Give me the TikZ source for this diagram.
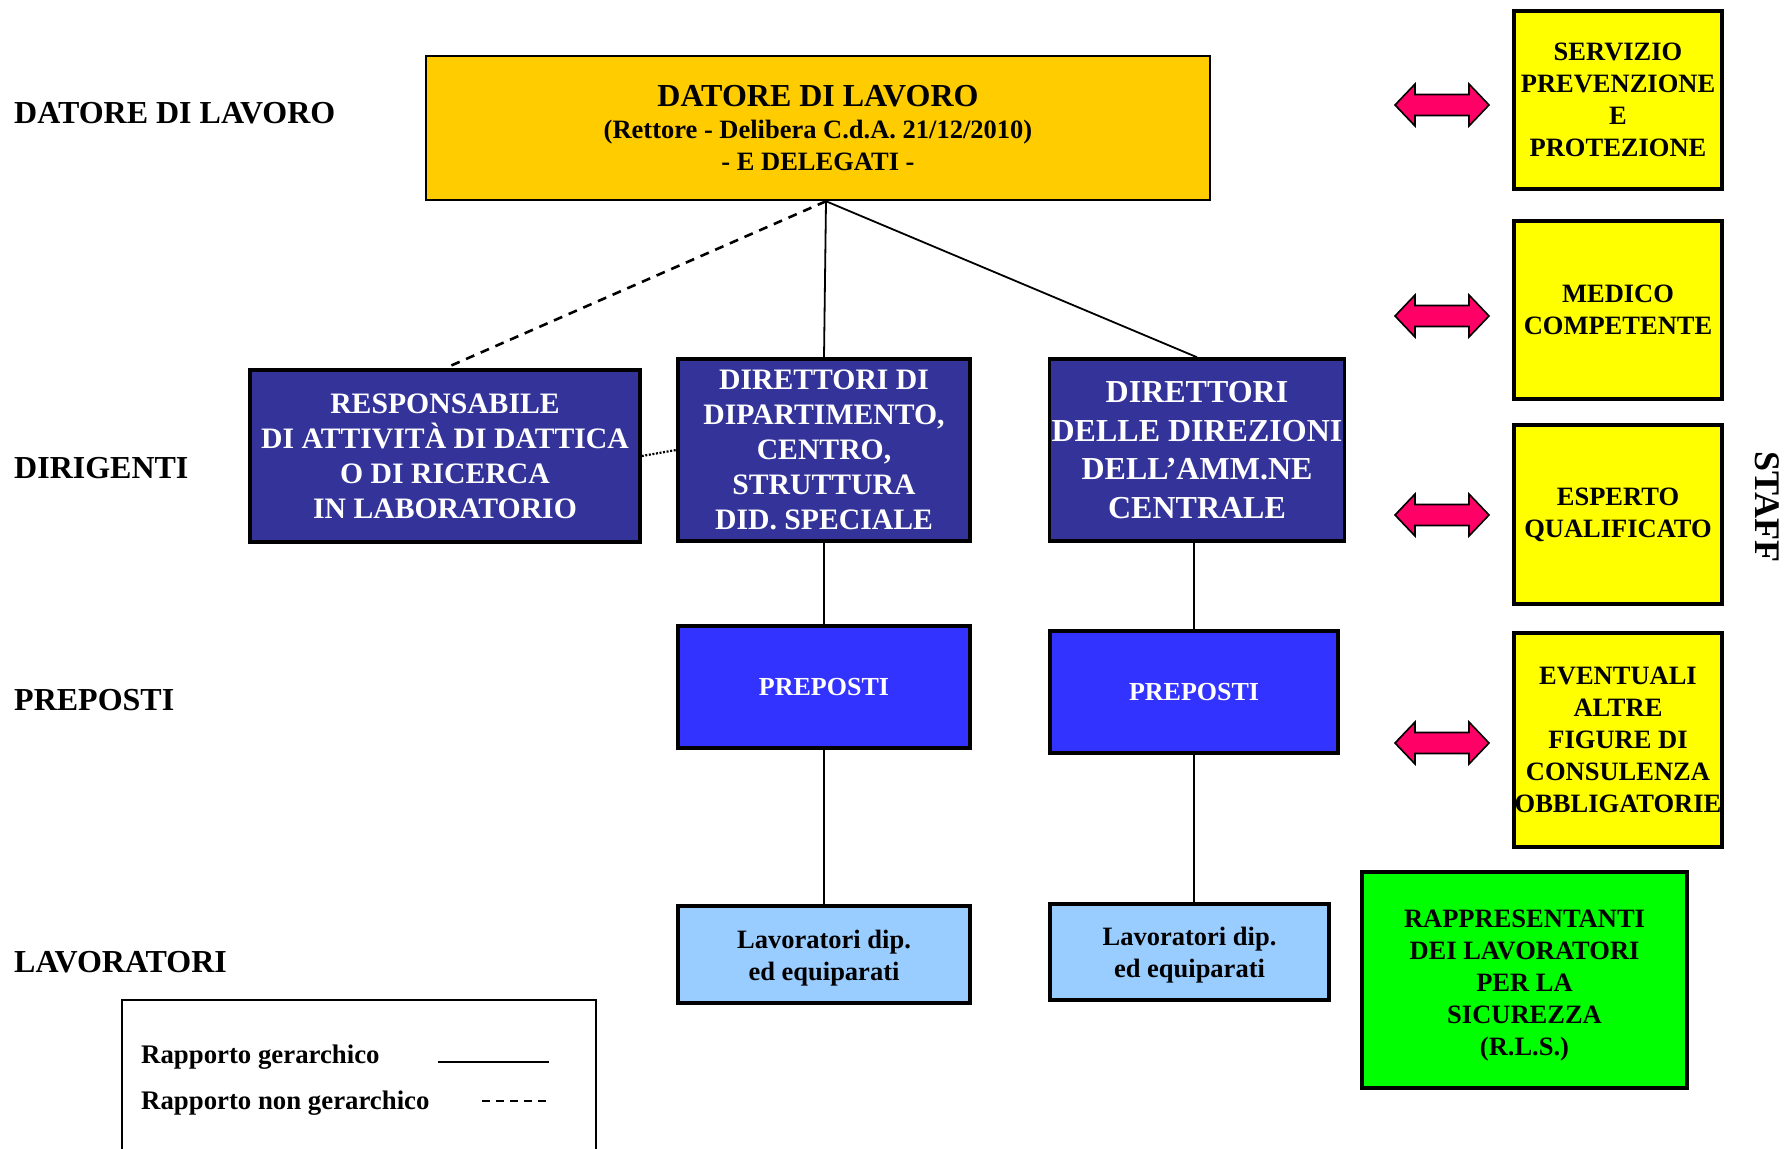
\documentclass[tikz,border=0pt]{standalone}
\usepackage{fontspec}
\setmainfont{Liberation Serif}
\usetikzlibrary{calc}
\definecolor{datoreC}{HTML}{FFCC00}
\definecolor{dirC}{HTML}{333399}
\definecolor{prepC}{HTML}{3333FF}
\definecolor{lavC}{HTML}{99CCFF}
\definecolor{staffC}{HTML}{FFFF00}
\definecolor{rlsC}{HTML}{00FF00}
\definecolor{arrC}{HTML}{FF0066}
\newcommand{\fsz}[2]{\fontsize{#1}{#2}\selectfont}
\begin{document}
\begin{tikzpicture}[x=1pt,y=-1pt,
  box/.style={draw=black, rectangle, inner sep=0pt, align=center, line width=3.5pt},
  dirbox/.style={box, fill=dirC, text=white, font=\bfseries\fsz{29.7}{35}},
  prepbox/.style={box, fill=prepC, text=white, font=\bfseries\fsz{26}{32}},
  lavbox/.style={box, fill=lavC, text=black, font=\bfseries\fsz{26.5}{32}},
  staffbox/.style={box, fill=staffC, text=black, font=\bfseries\fsz{26.5}{32}, minimum width=208pt},
  levlabel/.style={anchor=west, inner sep=0pt, font=\bfseries\fsz{32}{36}},
  legtext/.style={anchor=west, inner sep=0pt, font=\bfseries\fsz{26.8}{30}},
  hier/.style={draw=black, line width=1.8pt},
  nonhier/.style={draw=black, line width=2.6pt, dash pattern=on 9pt off 7pt},
  dblarr/.pic={\filldraw[fill=arrC, draw=black, line width=1.6pt]
     (-47,0) -- (-27,-21) -- (-27,-10.5) -- (27,-10.5) -- (27,-21) -- (47,0)
     -- (27,21) -- (27,10.5) -- (-27,10.5) -- (-27,21) -- cycle;}
]
\useasboundingbox (0,0) rectangle (1787,1148);

% level labels
\node[levlabel] (lDatore) at (14,113) {DATORE DI LAVORO};
\node[levlabel] (lDir) at (14,468) {DIRIGENTI};
\node[levlabel] (lPrep) at (14,700) {PREPOSTI};
\node[levlabel] (lLav) at (14,962) {LAVORATORI};

% top box
\node[box, fill=datoreC, line width=2.5pt, minimum width=784pt, minimum height=144pt,
      font=\bfseries\fsz{26.5}{32}] (datore) at (818,128)
  {{\fsz{32}{32}DATORE DI LAVORO}\\(Rettore - Delibera C.d.A. 21/12/2010)\\- E DELEGATI -};

% dirigenti
\node[dirbox, minimum width=390pt, minimum height=172pt] (resp) at (445,456)
  {RESPONSABILE\\DI ATTIVITÀ DI DATTICA\\O DI RICERCA\\IN LABORATORIO};
\node[dirbox, minimum width=292pt, minimum height=182pt] (dirdip) at (824,450)
  {DIRETTORI DI\\DIPARTIMENTO,\\CENTRO,\\STRUTTURA\\DID. SPECIALE};
\node[dirbox, minimum width=295pt, minimum height=182pt, font=\bfseries\fsz{32}{38.5}] (dirdir) at (1197,450)
  {DIRETTORI\\DELLE DIREZIONI\\DELL’AMM.NE\\CENTRALE};

% preposti
\node[prepbox, minimum width=292pt, minimum height=122pt] (prep1) at (824,687) {PREPOSTI};
\node[prepbox, minimum width=288pt, minimum height=122pt] (prep2) at (1194,692) {PREPOSTI};

% lavoratori
\node[lavbox, minimum width=292pt, minimum height=97pt] (lav1) at (824,954.5) {\rule{0pt}{25pt}Lavoratori dip.\\ed equiparati};
\node[lavbox, minimum width=279pt, minimum height=96pt] (lav2) at (1189.5,952) {\rule{0pt}{25pt}Lavoratori dip.\\ed equiparati};

% staff
\node[staffbox, minimum height=178pt] (spp) at (1618,100) {SERVIZIO\\PREVENZIONE\\E\\PROTEZIONE};
\node[staffbox, minimum height=178pt] (medico) at (1618,310) {MEDICO\\COMPETENTE};
\node[staffbox, minimum height=179pt] (esperto) at (1618,514.5) {ESPERTO\\QUALIFICATO};
\node[staffbox, minimum height=214pt] (altre) at (1618,740) {EVENTUALI\\ALTRE\\FIGURE DI\\CONSULENZA\\OBBLIGATORIE};
\node[box, fill=rlsC, font=\bfseries\fsz{26.5}{32}, minimum width=325pt, minimum height=216pt] (rls) at (1524.5,980)
  {\rule{0pt}{29pt}RAPPRESENTANTI\\DEI LAVORATORI\\PER LA\\SICUREZZA\\(R.L.S.)};

\node[font=\bfseries\fsz{36}{36}, rotate=-90, inner sep=0pt] (staff) at (1767,507) {STAFF};

% double arrows
\pic at (1442,105) {dblarr};
\pic at (1442,316) {dblarr};
\pic at (1442,515) {dblarr};
\pic at (1442,743) {dblarr};

% connectors
\coordinate (hub) at ([xshift=8pt]datore.south);
\draw[nonhier] (hub) -- (resp.north);
\draw[hier] (hub) -- (dirdip.north);
\draw[hier] (hub) -- (dirdir.north);
\draw[draw=black, line width=2.2pt, dash pattern=on 2pt off 1.6pt] (resp.east) -- (dirdip.west);
\draw[hier] (dirdip.south) -- (prep1.north);
\draw[hier] (prep2.north |- dirdir.south) -- (prep2.north);
\draw[hier] (prep1.south) -- (lav1.north);
\draw[hier] (prep2.south) -- (prep2.south |- lav2.north);

% legend
\draw[draw=black, line width=2pt] (122,1150) -- (122,1000) -- (596,1000) -- (596,1150);
\node[legtext] (leg1) at (141,1057) {Rapporto gerarchico};
\node[legtext] (leg2) at (141,1103) {Rapporto non gerarchico};
\coordinate (s1) at (438,1062);
\coordinate (e1) at (549,1062);
\coordinate (s2) at (482,1101);
\coordinate (e2) at (549,1101);
\draw[draw=black, line width=2pt] (s1) -- (e1);
\draw[draw=black, line width=2pt, dash pattern=on 8pt off 6pt] (s2) -- (e2);
\end{tikzpicture}
\end{document}
